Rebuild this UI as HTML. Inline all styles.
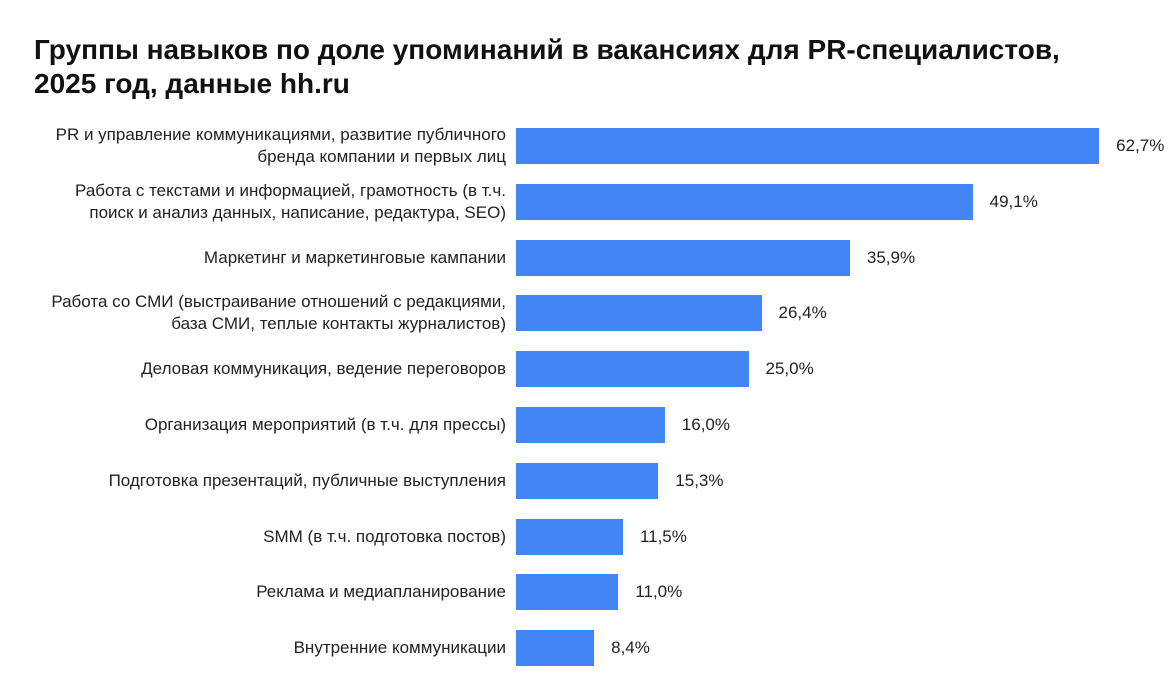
<!DOCTYPE html>
<html><head><meta charset="utf-8"><style>
body{margin:0;width:1176px;height:695px;background:#fff;font-family:"Liberation Sans",Arial,sans-serif;position:relative;overflow:hidden;color:#222}
h1{position:absolute;left:34px;top:33px;margin:0;font-size:28px;line-height:34px;font-weight:bold;color:#111;white-space:nowrap}
.l{position:absolute;right:670px;width:500px;text-align:right;font-size:17px;line-height:22px;color:#222}
.b{position:absolute;left:516px;height:36px;background:#4285F4}
.v{position:absolute;font-size:17px;line-height:20px;color:#222}
</style></head><body>
<h1>Группы навыков по доле упоминаний в вакансиях для PR-специалистов,<br>2025 год, данные hh.ru</h1>
<div id="c"></div>
<script>
var d=[["PR и управление коммуникациями, развитие публичного<br>бренда компании и первых лиц",62.7],
["Работа с текстами и информацией, грамотность (в т.ч.<br>поиск и анализ данных, написание, редактура, SEO)",49.1],
["Маркетинг и маркетинговые кампании",35.9],
["Работа со СМИ (выстраивание отношений с редакциями,<br>база СМИ, теплые контакты журналистов)",26.4],
["Деловая коммуникация, ведение переговоров",25.0],
["Организация мероприятий (в т.ч. для прессы)",16.0],
["Подготовка презентаций, публичные выступления",15.3],
["SMM (в т.ч. подготовка постов)",11.5],
["Реклама и медиапланирование",11.0],
["Внутренние коммуникации",8.4]];
var h="";
d.forEach(function(r,i){
var y=128+i*55.8, w=r[1]*9.3, two=r[0].indexOf("<br>")>=0;
h+='<div class="b" style="top:'+y+'px;width:'+w+'px"></div>';
h+='<div class="l" style="top:'+(y+18-(two?22:11))+'px">'+r[0]+'</div>';
h+='<div class="v" style="left:'+(516+w+17)+'px;top:'+(y+8)+'px">'+r[1].toFixed(1).replace(".",",")+'%</div>';
});
document.getElementById("c").innerHTML=h;
</script>
</body></html>
